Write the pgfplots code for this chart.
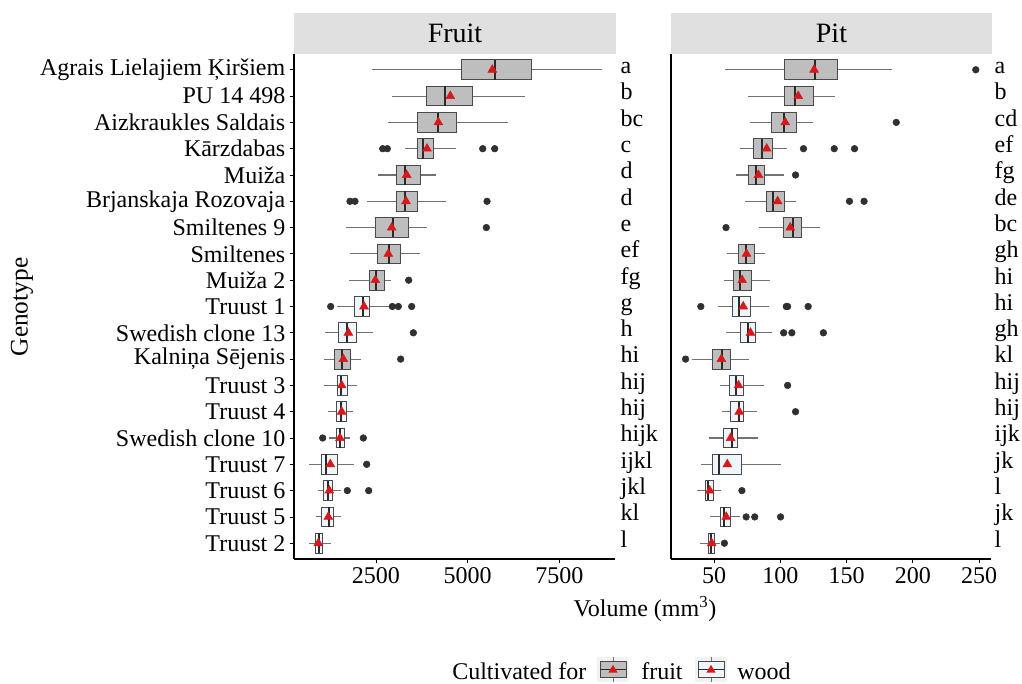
\documentclass[border=0pt]{standalone}
\usepackage{fontspec}
\setmainfont{Liberation Serif}
\usepackage{pgfplots}
\pgfplotsset{compat=1.18}
\usepgfplotslibrary{statistics}
\definecolor{fruitfill}{HTML}{BEBEBE}
\definecolor{woodfill}{HTML}{EEF6FB}
\definecolor{boxline}{HTML}{4A4A4A}
\definecolor{whisk}{HTML}{727272}
\definecolor{medline}{HTML}{2A2A2A}
\definecolor{dotcol}{HTML}{303030}
\definecolor{meanred}{HTML}{D7191C}
\definecolor{stripgray}{HTML}{E0E0E0}
\definecolor{keybg}{HTML}{F2F2F2}

\pgfplotsset{
  gbase/.style={
    scale only axis, height=378.75pt, clip=false,
    anchor=south west,
    axis x line*=bottom, axis y line*=left,
    axis line style={line width=0.9pt, black},
    tick align=outside, major tick length=3pt,
    tick style={line width=0.6pt, black},
    ymin=0.4, ymax=19.6,
    boxplot/draw direction=x,
    boxplot/box extend=0.75,
    boxplot/whisker extend=0,
    boxplot/every box/.style={draw=boxline, line width=0.7pt},
    boxplot/every whisker/.style={draw=whisk, line width=0.8pt},
    boxplot/every median/.style={draw=medline, line width=1.5pt},
    ticklabel style={font=\fontsize{18}{20}\selectfont},
    /pgf/number format/assume math mode=true,
    /pgf/number format/1000 sep={},
    xticklabel={\pgfmathprintnumber[assume math mode=true]{\tick}},
  },
  fr/.style={fill=fruitfill},
  wd/.style={fill=woodfill},
  outl/.style={only marks, mark=*, mark size=2.5pt, color=dotcol},
  meanm/.style={only marks, mark=triangle*, mark size=3.8pt, color=meanred},
}
\tikzset{letter/.style={anchor=west, inner sep=0pt, xshift=4pt, font=\fontsize{18}{20}\selectfont, text height=1.5ex, text depth=0.25ex}}

\begin{document}
\begin{tikzpicture}
\path[use as bounding box] (0pt,0pt) rectangle (766.5pt,512.25pt);

% ---------------- Fruit ----------------
\begin{axis}[gbase, at={(220.5pt,93pt)}, width=240.75pt,
  xmin=265, xmax=9018, xtick={2500,5000,7500},
  ytick={1,...,19},
  yticklabels={Truust 2, Truust 5, Truust 6, Truust 7, Swedish clone 10, Truust 4, Truust 3, Kalniņa Sējenis, Swedish clone 13, Truust 1, Muiža 2, Smiltenes, Smiltenes 9, Brjanskaja Rozovaja, Muiža, Kārzdabas, Aizkraukles Saldais, PU 14 498, Agrais Lielajiem Ķiršiem},
]
\addplot[fr, boxplot prepared={draw position=19, lower whisker=2383, lower quartile=4838, median=5755, upper quartile=6736, upper whisker=8656}] coordinates {};
\addplot[fr, boxplot prepared={draw position=18, lower whisker=2929, lower quartile=3883, median=4374, upper quartile=5127, upper whisker=6564}] coordinates {};
\addplot[fr, boxplot prepared={draw position=17, lower whisker=2820, lower quartile=3638, median=4183, upper quartile=4683, upper whisker=6108}] coordinates {};
\addplot[fr, boxplot prepared={draw position=16, lower whisker=3292, lower quartile=3638, median=3791, upper quartile=4074, upper whisker=4683}] coordinates {};
\addplot[fr, boxplot prepared={draw position=15, lower whisker=2565, lower quartile=3046, median=3292, upper quartile=3710, upper whisker=4128}] coordinates {};
\addplot[fr, boxplot prepared={draw position=14, lower whisker=2265, lower quartile=3046, median=3301, upper quartile=3619, upper whisker=4419}] coordinates {};
\addplot[fr, boxplot prepared={draw position=13, lower whisker=1683, lower quartile=2483, median=2974, upper quartile=3383, upper whisker=3883}] coordinates {};
\addplot[fr, boxplot prepared={draw position=12, lower whisker=1792, lower quartile=2547, median=2847, upper quartile=3164, upper whisker=3692}] coordinates {};
\addplot[fr, boxplot prepared={draw position=11, lower whisker=1774, lower quartile=2310, median=2501, upper quartile=2719, upper whisker=2902}] coordinates {};
\addplot[wd, boxplot prepared={draw position=10, lower whisker=1429, lower quartile=1910, median=2138, upper quartile=2319, upper whisker=2864}] coordinates {};
\addplot[wd, boxplot prepared={draw position=9, lower whisker=1110, lower quartile=1474, median=1701, upper quartile=1974, upper whisker=2411}] coordinates {};
\addplot[fr, boxplot prepared={draw position=8, lower whisker=1092, lower quartile=1365, median=1583, upper quartile=1792, upper whisker=2092}] coordinates {};
\addplot[wd, boxplot prepared={draw position=7, lower whisker=1092, lower quartile=1456, median=1556, upper quartile=1719, upper whisker=1974}] coordinates {};
\addplot[wd, boxplot prepared={draw position=6, lower whisker=1183, lower quartile=1429, median=1547, upper quartile=1701, upper whisker=1883}] coordinates {};
\addplot[wd, boxplot prepared={draw position=5, lower whisker=1219, lower quartile=1410, median=1519, upper quartile=1637, upper whisker=1792}] coordinates {};
\addplot[wd, boxplot prepared={draw position=4, lower whisker=682, lower quartile=1019, median=1138, upper quartile=1456, upper whisker=1910}] coordinates {};
\addplot[wd, boxplot prepared={draw position=3, lower whisker=910, lower quartile=1065, median=1201, upper quartile=1310, upper whisker=1538}] coordinates {};
\addplot[wd, boxplot prepared={draw position=2, lower whisker=856, lower quartile=1019, median=1219, upper quartile=1329, upper whisker=1538}] coordinates {};
\addplot[wd, boxplot prepared={draw position=1, lower whisker=682, lower quartile=856, median=947, upper quartile=1047, upper whisker=1265}] coordinates {};
% outliers
\addplot[outl] coordinates {(2683,16) (2810,16) (5411,16) (5737,16) (1792,14) (1928,14) (5529,14) (5510,13) (3392,11) (1265,10) (2946,10) (3110,10) (3474,10) (3519,9) (3174,8) (1047,5) (2156,5) (2247,4) (1719,3) (2301,3)};
% means
\addplot[meanm] coordinates {(5672,19) (4527,18) (4200,17) (3892,16) (3338,15) (3319,14) (2929,13) (2837,12) (2483,11) (2174,10) (1747,9) (1610,8) (1565,7) (1565,6) (1519,5) (1256,4) (1228,3) (1201,2) (929,1)};
% letters
\node[letter] at (axis cs:9018,19) {a};
\node[letter] at (axis cs:9018,18) {b};
\node[letter] at (axis cs:9018,17) {bc};
\node[letter] at (axis cs:9018,16) {c};
\node[letter] at (axis cs:9018,15) {d};
\node[letter] at (axis cs:9018,14) {d};
\node[letter] at (axis cs:9018,13) {e};
\node[letter] at (axis cs:9018,12) {ef};
\node[letter] at (axis cs:9018,11) {fg};
\node[letter] at (axis cs:9018,10) {g};
\node[letter] at (axis cs:9018,9) {h};
\node[letter] at (axis cs:9018,8) {hi};
\node[letter] at (axis cs:9018,7) {hij};
\node[letter] at (axis cs:9018,6) {hij};
\node[letter] at (axis cs:9018,5) {hijk};
\node[letter] at (axis cs:9018,4) {ijkl};
\node[letter] at (axis cs:9018,3) {jkl};
\node[letter] at (axis cs:9018,2) {kl};
\node[letter] at (axis cs:9018,1) {l};
\end{axis}

% ---------------- Pit ----------------
\begin{axis}[gbase, at={(503.25pt,93pt)}, width=240pt,
  xmin=17.5, xmax=259, xtick={50,100,150,200,250},
  ytick=\empty,
]
\addplot[fr, boxplot prepared={draw position=19, lower whisker=58.2, lower quartile=103.5, median=126, upper quartile=143.2, upper whisker=184.5}] coordinates {};
\addplot[fr, boxplot prepared={draw position=18, lower whisker=75.7, lower quartile=103.5, median=111.2, upper quartile=125, upper whisker=141.5}] coordinates {};
\addplot[fr, boxplot prepared={draw position=17, lower whisker=77.2, lower quartile=93.2, median=103, upper quartile=112.5, upper whisker=124.5}] coordinates {};
\addplot[fr, boxplot prepared={draw position=16, lower whisker=69.2, lower quartile=79.7, median=86.5, upper quartile=94.2, upper whisker=104.7}] coordinates {};
\addplot[fr, boxplot prepared={draw position=15, lower whisker=66.5, lower quartile=75.7, median=82, upper quartile=88.2, upper whisker=102.7}] coordinates {};
\addplot[fr, boxplot prepared={draw position=14, lower whisker=73.7, lower quartile=89.5, median=94.7, upper quartile=103.2, upper whisker=112.2}] coordinates {};
\addplot[fr, boxplot prepared={draw position=13, lower whisker=83.7, lower quartile=102, median=109.5, upper quartile=115.7, upper whisker=129.7}] coordinates {};
\addplot[fr, boxplot prepared={draw position=12, lower whisker=59.7, lower quartile=68.2, median=74.2, upper quartile=80.5, upper whisker=88.5}] coordinates {};
\addplot[fr, boxplot prepared={draw position=11, lower whisker=57.2, lower quartile=64.7, median=69.5, upper quartile=78.5, upper whisker=92}] coordinates {};
\addplot[wd, boxplot prepared={draw position=10, lower whisker=53.2, lower quartile=63.7, median=68.5, upper quartile=77.7, upper whisker=91.7}] coordinates {};
\addplot[wd, boxplot prepared={draw position=9, lower whisker=58.7, lower quartile=70.2, median=75.5, upper quartile=81.5, upper whisker=94}] coordinates {};
\addplot[fr, boxplot prepared={draw position=8, lower whisker=33.5, lower quartile=48.5, median=56, upper quartile=62, upper whisker=76.5}] coordinates {};
\addplot[wd, boxplot prepared={draw position=7, lower whisker=54.7, lower quartile=61.5, median=66.2, upper quartile=72.5, upper whisker=87.7}] coordinates {};
\addplot[wd, boxplot prepared={draw position=6, lower whisker=55.7, lower quartile=62.2, median=69, upper quartile=72, upper whisker=82.2}] coordinates {};
\addplot[wd, boxplot prepared={draw position=5, lower whisker=46.2, lower quartile=57, median=63.7, upper quartile=67.7, upper whisker=83.2}] coordinates {};
\addplot[wd, boxplot prepared={draw position=4, lower whisker=40, lower quartile=49, median=53.7, upper quartile=70.7, upper whisker=100.2}] coordinates {};
\addplot[wd, boxplot prepared={draw position=3, lower whisker=37, lower quartile=43.7, median=45.5, upper quartile=49.7, upper whisker=55}] coordinates {};
\addplot[wd, boxplot prepared={draw position=2, lower whisker=47, lower quartile=54.7, median=57.7, upper quartile=62, upper whisker=69.2}] coordinates {};
\addplot[wd, boxplot prepared={draw position=1, lower whisker=39.7, lower quartile=45.5, median=47.7, upper quartile=50.2, upper whisker=54.5}] coordinates {};
% outliers
\addplot[outl] coordinates {(247.5,19) (187.5,17) (117.5,16) (140.7,16) (156,16) (111.5,15) (152.2,14) (163.2,14) (59,13) (40,10) (104.5,10) (105.5,10) (121,10) (102.5,9) (108.7,9) (132.5,9) (28.5,8) (105.5,7) (111.5,6) (71,3) (74.2,2) (80.7,2) (100.2,2) (57.8,1)};
% means
\addplot[meanm] coordinates {(125.5,19) (113.5,18) (103.7,17) (89.7,16) (83.5,15) (98,14) (107.5,13) (74.5,12) (71.2,11) (72,10) (77.5,9) (55.5,8) (68.5,7) (69,6) (62.5,5) (60,4) (46.7,3) (59.2,2) (48.2,1)};
% letters
\begin{scope}[every node/.append style={xshift=-1.5pt}]
\node[letter] at (axis cs:259,19) {a};
\node[letter] at (axis cs:259,18) {b};
\node[letter] at (axis cs:259,17) {cd};
\node[letter] at (axis cs:259,16) {ef};
\node[letter] at (axis cs:259,15) {fg};
\node[letter] at (axis cs:259,14) {de};
\node[letter] at (axis cs:259,13) {bc};
\node[letter] at (axis cs:259,12) {gh};
\node[letter] at (axis cs:259,11) {hi};
\node[letter] at (axis cs:259,10) {hi};
\node[letter] at (axis cs:259,9) {gh};
\node[letter] at (axis cs:259,8) {kl};
\node[letter] at (axis cs:259,7) {hij};
\node[letter] at (axis cs:259,6) {hij};
\node[letter] at (axis cs:259,5) {ijk};
\node[letter] at (axis cs:259,4) {jk};
\node[letter] at (axis cs:259,3) {l};
\node[letter] at (axis cs:259,2) {jk};
\node[letter] at (axis cs:259,1) {l};
\end{scope}
\end{axis}

% strips
\fill[stripgray] (220.5pt,471.75pt) rectangle (462pt,502.5pt);
\fill[stripgray] (503.25pt,471.75pt) rectangle (744pt,502.5pt);
\node[font=\fontsize{21}{24}\selectfont] at (341.25pt,487.1pt) {Fruit};
\node[font=\fontsize{21}{24}\selectfont] at (623.6pt,487.1pt) {Pit};

% axis titles
\node[rotate=90, font=\fontsize{19}{22}\selectfont] at (16.5pt,282pt) {Genotype};
\node[font=\fontsize{18}{20}\selectfont] at (483.75pt,55.5pt) {Volume (mm\textsuperscript{3})};

% legend
\node[anchor=base west, inner sep=0pt, font=\fontsize{18}{20}\selectfont] at (339pt,3pt) {Cultivated for};
\foreach \dx/\col in {0pt/fruitfill, 73.5pt/woodfill}{
  \begin{scope}[xshift=\dx]
    \fill[keybg] (447.75pt,0.75pt) rectangle (471.75pt,19.5pt);
    \draw[whisk, line width=0.7pt] (459.75pt,0.75pt) -- (459.75pt,19.5pt);
    \filldraw[fill=\col, draw=boxline, line width=0.7pt] (450pt,4pt) rectangle (469.5pt,16pt);
    \draw[medline, line width=1pt] (450pt,10pt) -- (469.5pt,10pt);
    \fill[meanred] (456.3pt,7.8pt) -- (463.2pt,7.8pt) -- (459.75pt,13.6pt) -- cycle;
  \end{scope}
}
\node[anchor=base west, inner sep=0pt, font=\fontsize{18}{20}\selectfont] at (480.75pt,3pt) {fruit};
\node[anchor=base west, inner sep=0pt, font=\fontsize{18}{20}\selectfont] at (552.75pt,3pt) {wood};
\end{tikzpicture}
\end{document}
